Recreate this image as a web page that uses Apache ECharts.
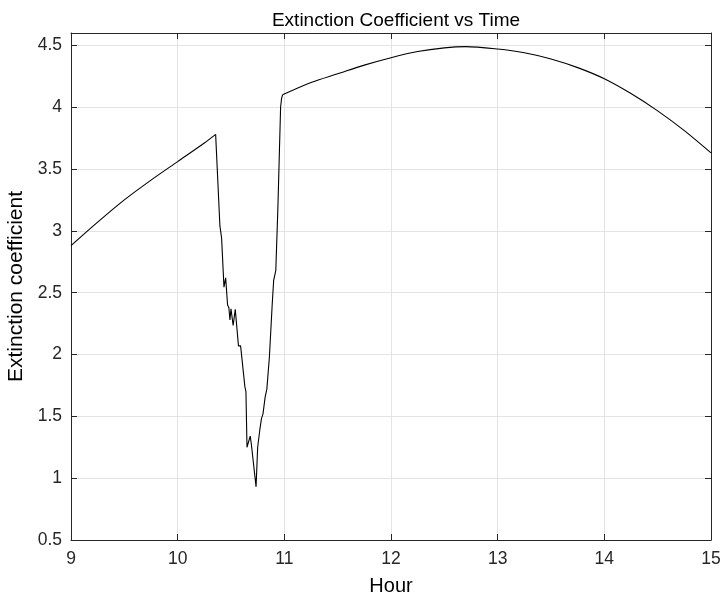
<!DOCTYPE html>
<html>
<head>
<meta charset="utf-8">
<script src="https://cdn.jsdelivr.net/npm/echarts@6/dist/echarts.min.js"></script>
<style>
html,body{margin:0;padding:0;background:#fff;}
#chart{width:723px;height:596px;}
</style>
</head>
<body>
<div id="chart"></div>
<script>
// Rising section before the dip
const riseHours  = [9.0, 9.25, 9.5, 9.75, 10.0, 10.25, 10.356];
const riseValues = [2.88, 3.07, 3.25, 3.41, 3.56, 3.71, 3.78];

// Dip section (jagged)
const dipHours  = [10.356, 10.396, 10.412, 10.434, 10.45, 10.468, 10.48, 10.49, 10.50, 10.52, 10.54, 10.57, 10.59, 10.63, 10.64, 10.65, 10.665, 10.68, 10.69, 10.735, 10.75, 10.77, 10.785, 10.80, 10.82, 10.836, 10.86, 10.886, 10.90, 10.92, 10.94, 10.965, 10.974, 10.983];
const dipValues = [3.78, 3.04, 2.94, 2.545, 2.62, 2.40, 2.38, 2.28, 2.37, 2.235, 2.365, 2.07, 2.07, 1.74, 1.70, 1.25, 1.25, 1.34, 1.28, 0.93, 1.25, 1.39, 1.48, 1.52, 1.655, 1.72, 1.98, 2.40, 2.60, 2.68, 3.20, 4.00, 4.07, 4.10];

// Smooth arc after the dip
const arcHours  = [10.983, 11.25, 11.5, 11.75, 12.0, 12.25, 12.5, 12.7, 13.0, 13.25, 13.5, 13.75, 14.0, 14.25, 14.5, 14.75, 15.0];
const arcValues = [4.10, 4.20, 4.27, 4.34, 4.40, 4.45, 4.48, 4.49, 4.47, 4.44, 4.39, 4.32, 4.23, 4.11, 3.97, 3.81, 3.63];

const xTicks = [9, 10, 11, 12, 13, 14, 15];
const yTicks = [0.5, 1, 1.5, 2, 2.5, 3, 3.5, 4, 4.5];

function pairs(xs, ys){ return xs.map((x,i)=>[x, ys[i]]); }

const axisColor = '#262626';
const font = '"Liberation Sans", Arial, Helvetica, sans-serif';
const lineStyle = {color:'#000000', width:1.1};

const chart = echarts.init(document.getElementById('chart'), null, {renderer:'canvas'});
chart.setOption({
  backgroundColor:'#ffffff',
  animation:false,
  title:{
    text:'Extinction Coefficient vs Time',
    left:391, textAlign:'center', top:6,
    textStyle:{fontFamily:font, fontSize:19, fontWeight:'normal', color:'#000'}
  },
  grid:{left:71, right:12, top:33, bottom:56, containLabel:false, outerBoundsMode:'none'},
  xAxis:[{
    type:'value', min:9, max:15, interval:1,
    name:'Hour', nameLocation:'middle', nameGap:36,
    nameTextStyle:{fontFamily:font, fontSize:20, color:'#000'},
    axisLine:{onZero:false, lineStyle:{color:axisColor, width:1}},
    axisTick:{inside:true, length:6, lineStyle:{color:axisColor}},
    axisLabel:{fontFamily:font, fontSize:17.5, color:axisColor, margin:10,
      formatter:v=> xTicks.includes(v) ? String(v) : ''},
    splitLine:{show:true, lineStyle:{color:'#e3e3e3', width:1}}
  },{
    type:'value', position:'top', min:9, max:15, interval:1,
    axisLine:{onZero:false, lineStyle:{color:axisColor, width:1}},
    axisTick:{inside:true, length:6, lineStyle:{color:axisColor}},
    axisLabel:{show:false}, splitLine:{show:false}
  }],
  yAxis:[{
    type:'value', min:0.5, max:4.6, interval:0.5,
    name:'Extinction coefficient', nameLocation:'middle', nameGap:44,
    nameTextStyle:{fontFamily:font, fontSize:21, color:'#000'},
    axisLine:{show:true, onZero:false, lineStyle:{color:axisColor, width:1}},
    axisTick:{show:true, inside:true, length:6, lineStyle:{color:axisColor}},
    axisLabel:{fontFamily:font, fontSize:17.5, color:axisColor, margin:9, showMaxLabel:false,
      formatter:v=> yTicks.some(t=>Math.abs(t-v)<1e-9) ? String(v) : ''},
    splitLine:{show:true, lineStyle:{color:'#e3e3e3', width:1}}
  },{
    type:'value', position:'right', min:0.5, max:4.6, interval:0.5,
    axisLine:{show:true, onZero:false, lineStyle:{color:axisColor, width:1}},
    axisTick:{show:true, inside:true, length:6, lineStyle:{color:axisColor}},
    axisLabel:{show:false}, splitLine:{show:false}
  }],
  series:[
    {type:'line', data:pairs(riseHours, riseValues), smooth:0.3, showSymbol:false, lineStyle, itemStyle:{color:'#000'}},
    {type:'line', data:pairs(dipHours, dipValues), smooth:false, showSymbol:false, lineStyle, itemStyle:{color:'#000'}},
    {type:'line', data:pairs(arcHours, arcValues), smooth:0.3, showSymbol:false, lineStyle, itemStyle:{color:'#000'}}
  ]
});
</script>
</body>
</html>
